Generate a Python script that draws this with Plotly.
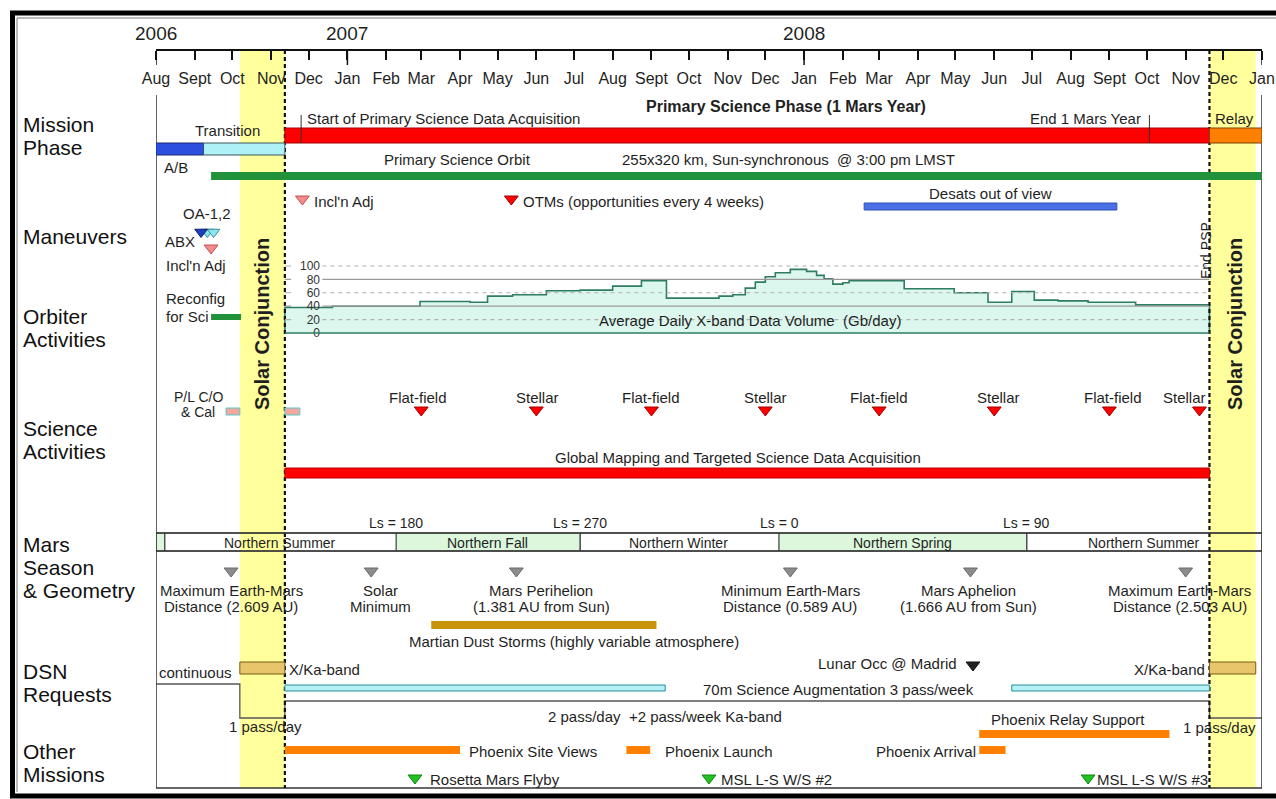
import pandas as pd
import plotly.graph_objects as go

FONT = "Liberation Sans, Arial, Helvetica, sans-serif"
INK = "#1f1f1f"
W, H = 1276, 799

# ---------------------------------------------------------------- time axis
axis_start, axis_end = "2006-08-01", "2009-01-01"
month_ticks = [d.strftime("%Y-%m-%d") for d in pd.date_range(axis_start, axis_end, freq="MS")]
month_labels = ["Aug", "Sept", "Oct", "Nov", "Dec", "Jan", "Feb", "Mar", "Apr", "May", "Jun", "Jul",
                "Aug", "Sept", "Oct", "Nov", "Dec", "Jan", "Feb", "Mar", "Apr", "May", "Jun", "Jul",
                "Aug", "Sept", "Oct", "Nov", "Dec", "Jan"]
year_labels = ["2006", "2007", "2008"]
year_dates = ["2006-08-01", "2007-01-01", "2008-01-01"]
long_tick_dates = ["2006-08-01", "2007-01-01", "2008-01-01", "2009-01-01"]

conjunctions = [("2006-10-07", "2006-11-12"), ("2008-11-20", "2008-12-27")]
psp_start, psp_end = "2006-11-12", "2008-11-20"

# ---------------------------------------------------------------- mission phase
ab_span = ("2006-08-01", "2006-09-08")
transition_span = ("2006-09-08", psp_start)
primary_span = (psp_start, psp_end)
relay_span = (psp_end, axis_end)
science_start_date = "2006-11-25"
end_mars_year_date = "2008-10-03"
orbit_span = ("2006-09-14", axis_end)

# ---------------------------------------------------------------- maneuvers
desat_span = ("2008-02-18", "2008-09-07")
abx_dates = ["2006-09-06"]
oa_dates = ["2006-09-11", "2006-09-16"]
incl_adj_early = ["2006-09-14"]
incl_adj_late = ["2006-11-26"]
otm_dates = ["2007-05-12"]

# ---------------------------------------------------------------- orbiter activities
reconfig_span = ("2006-09-14", "2006-10-08")
vol_dates = ["2006-11-12", "2006-12-20", "2007-02-28", "2007-04-09", "2007-04-23", "2007-05-13",
             "2007-06-09", "2007-07-06", "2007-08-01", "2007-08-24", "2007-09-13", "2007-10-25",
             "2007-11-05", "2007-11-15", "2007-11-23", "2007-12-01", "2007-12-09", "2007-12-21",
             "2008-01-03", "2008-01-11", "2008-01-17", "2008-01-24", "2008-02-01", "2008-02-06",
             "2008-03-21", "2008-04-30", "2008-05-27", "2008-06-15", "2008-07-03", "2008-07-22",
             "2008-08-15", "2008-09-22", "2008-11-20"]
vol_gbday = [38, 40, 47, 46, 55, 57, 63, 64, 70, 78, 52, 55, 57, 67, 76, 84, 90, 95, 92, 86,
             81, 73, 75, 78, 66, 60, 46, 62, 49, 48, 46, 42, 42]
vol_ticks = [0, 20, 40, 60, 80, 100]
vol_grid_solid = [40, 80]
vol_grid_dashed = [20, 60, 100]

# ---------------------------------------------------------------- science activities
cal_spans = [("2006-09-26", "2006-10-07"), ("2006-11-12", "2006-11-24")]
cal_dates = ["2007-03-01", "2007-06-01", "2007-09-01", "2007-12-01",
             "2008-03-01", "2008-06-01", "2008-09-01", "2008-11-12"]
cal_names = ["Flat-field", "Stellar", "Flat-field", "Stellar",
             "Flat-field", "Stellar", "Flat-field", "Stellar"]
mapping_span = (psp_start, psp_end)

# ---------------------------------------------------------------- Mars season & geometry
season_bounds = ["2006-08-01", "2006-08-08", "2007-02-09", "2007-07-06",
                 "2007-12-12", "2008-06-27", "2009-01-01"]
season_names = ["", "Northern Summer", "Northern Fall", "Northern Winter",
                "Northern Spring", "Northern Summer"]
season_shaded = [True, False, True, False, True, False]
ls_values = [180, 270, 0, 90]
ls_dates = ["2007-02-09", "2007-07-06", "2007-12-12", "2008-06-27"]
geom_dates = ["2006-09-30", "2007-01-20", "2007-05-16", "2007-12-21", "2008-05-13", "2008-11-01"]
geom_labels = ["Maximum Earth-Mars\nDistance (2.609 AU)", "Solar\nMinimum",
               "Mars Perihelion\n(1.381 AU from Sun)", "Minimum Earth-Mars\nDistance (0.589 AU)",
               "Mars Aphelion\n(1.666 AU from Sun)", "Maximum Earth-Mars\nDistance (2.503 AU)"]
dust_span = ("2007-03-09", "2007-09-05")

# ---------------------------------------------------------------- DSN requests
dsn_dates = [axis_start, "2006-10-07", psp_start, psp_end, axis_end]
dsn_level = [3, 1, 2, 1, 1]          # 3 = continuous, 2 = 2 pass/day, 1 = 1 pass/day
xka_spans = [("2006-10-07", psp_start), (psp_end, "2008-12-27")]
aug70_spans = [(psp_start, "2007-09-12"), ("2008-06-15", psp_end)]
lunar_occ_dates = ["2008-05-15"]

# ---------------------------------------------------------------- other missions
site_views_span = (psp_start, "2007-04-01")
launch_span = ("2007-08-12", "2007-08-31")
arrival_span = ("2008-05-20", "2008-06-10")
relay_support_span = ("2008-05-20", "2008-10-19")
flyby_dates = ["2007-02-24", "2007-10-17", "2008-08-15"]
flyby_names = ["Rosetta Mars Flyby", "MSL L-S W/S #2", "MSL L-S W/S #3"]


# ================================================================ drawing helpers
def fx(p):
    return p / W


def fy(p):
    return 1 - p / H


BOX_BOTTOM = 788
shapes, annotations = [], []


def rect(x0, x1, y0, y1, fill, line=None, lw=1.0, layer="above", xref="x"):
    shapes.append(dict(type="rect", xref=xref, yref="y", x0=x0, x1=x1, y0=y0, y1=y1,
                       fillcolor=fill, layer=layer,
                       line=dict(color=line if line else "rgba(0,0,0,0)", width=lw if line else 0)))


def seg(x0, x1, y0, y1, color="#222", width=1.0, dash="solid", xref="x", yref="y", layer="above"):
    shapes.append(dict(type="line", xref=xref, yref=yref, x0=x0, x1=x1, y0=y0, y1=y1,
                       layer=layer, line=dict(color=color, width=width, dash=dash)))


def pline(x0, x1, y0, y1, color, width):
    shapes.append(dict(type="line", xref="paper", yref="paper", x0=fx(x0), x1=fx(x1),
                       y0=fy(y0), y1=fy(y1), layer="below", line=dict(color=color, width=width)))


def text(x, y, s, size=15, anchor="center", color=INK, xref="paper", angle=0, xshift=0, lh=None):
    lh = lh or size * 1.07
    for i, line in enumerate(s.split("\n")):
        annotations.append(dict(x=fx(x) if xref == "paper" else x, y=y + i * lh, xref=xref, yref="y",
                                text=line, showarrow=False, xanchor=anchor, yanchor="middle",
                                textangle=angle, xshift=xshift, borderpad=0,
                                font=dict(family=FONT, size=size, color=color)))


fig = go.Figure()


def tri(dates, y, color, edge, size=12, symbol="triangle-down"):
    fig.add_trace(go.Scatter(x=dates, y=[y] * len(dates), mode="markers", yaxis="y",
                             marker=dict(symbol=symbol, size=size, color=color,
                                         line=dict(color=edge, width=1)),
                             hoverinfo="skip", cliponaxis=False))


# ---------------------------------------------------------------- frame & axis furniture
pline(10, 1276, 13, 13, "#000", 5)
pline(12.5, 12.5, 11, 797, "#000", 5)
pline(10, 1276, 796, 796, "#000", 5)
pline(17, 1276, 18, 18, "#777", 1)
pline(17, 17, 18, 792, "#777", 1)

for c0, c1 in conjunctions:
    rect(c0, c1, 50, BOX_BOTTOM, "#ffff9c", layer="below")

seg(axis_start, axis_start, 95, BOX_BOTTOM, "#333", 1.5)
seg(axis_end, axis_end, 95, BOX_BOTTOM, "#333", 1.5)
seg(axis_start, axis_end, BOX_BOTTOM, BOX_BOTTOM, "#333", 1.5)
for d in long_tick_dates:
    seg(d, d, 50, 65, "#111", 1.5)
for d in (psp_start, psp_end):
    seg(d, d, 50, BOX_BOTTOM, "#111", 2.2, dash="4px,3px")

for lab, d in zip(year_labels, year_dates):
    text(d, 33, lab, size=19, xref="x")

# ---------------------------------------------------------------- row titles
for s, y in [("Mission\nPhase", 124), ("Maneuvers", 236), ("Orbiter\nActivities", 316),
             ("Science\nActivities", 428), ("Mars\nSeason\n& Geometry", 544),
             ("DSN\nRequests", 671), ("Other\nMissions", 751)]:
    text(22, y, s, size=21, anchor="left", color="#111", lh=23.3)

# ---------------------------------------------------------------- mission phase
rect(*ab_span, 143, 155, "#2d4fe0", "#1a2a70")
rect(*transition_span, 143, 155, "#aef2f5", "#3a5560")
rect(*primary_span, 128, 143, "#ff0000", "#a00000")
rect(*relay_span, 128, 143, "#ff8000", "#7a4000")
rect(*orbit_span, 172, 180, "#21913a")
seg(science_start_date, science_start_date, 115, 143, "#333", 1)
seg(end_mars_year_date, end_mars_year_date, 115, 143, "#333", 1)
text(228, 130, "Transition")
text(176, 167, "A/B")
text(306, 118, "Start of Primary Science Data Acquisition", anchor="left")
text(786, 106, "<b>Primary Science Phase (1 Mars Year)</b>", size=16)
text(1142, 118, "End 1 Mars Year", anchor="right")
text(1234, 118, "Relay")
text(457, 159, "Primary Science Orbit")
text(788, 159, "255x320 km, Sun-synchronous \u00a0@ 3:00 pm LMST")

# ---------------------------------------------------------------- maneuvers
rect(*desat_span, 203, 210, "#4b6fe6", "#3050b0")
text(990, 193, "Desats out of view")
tri(incl_adj_late, 199, "#f28c8c", "#c05050")
text(313, 201, "Incl'n Adj", anchor="left")
tri(otm_dates, 199, "#ff0000", "#a00000")
text(522, 201, "OTMs (opportunities every 4 weeks)", anchor="left")
tri(oa_dates, 232, "#8ae6ef", "#3a8a9a", size=11)
tri(abx_dates, 232, "#1f3fc0", "#102060", size=11)
tri(incl_adj_early, 248, "#f28c8c", "#c05050")
text(207, 213, "OA-1,2")
text(196, 241, "ABX", anchor="right")
text(196, 265, "Incl'n Adj")
text(1206, 251, "End PSP", size=14, angle=-90)

# ---------------------------------------------------------------- orbiter activities
rect(*reconfig_span, 314, 320, "#21913a")
text(165, 298, "Reconfig\nfor Sci", anchor="left", lh=18)

vol_x = [vol_dates[0]] + vol_dates + [vol_dates[-1]]
vol_y = [0] + vol_gbday + [0]
fig.add_trace(go.Scatter(x=vol_x, y=vol_y, mode="lines", line_shape="hv", yaxis="y2",
                         fill="tozeroy", fillcolor="#dcf7ee",
                         line=dict(color="#2f7d5f", width=1.6), hoverinfo="skip"))
grid_from = "2006-12-12"
for v in vol_grid_solid:
    seg(grid_from, psp_end, v, v, "#9a9a9a", 1.2, yref="y2")
    seg(psp_start, "2006-11-17", v, v, "#9a9a9a", 1.2, yref="y2")
for v in vol_grid_dashed:
    seg(grid_from, psp_end, v, v, "#b0b0b0", 1.1, dash="4px,4px", yref="y2")
    seg(psp_start, "2006-11-17", v, v, "#b0b0b0", 1.1, yref="y2")
seg(psp_start, psp_end, 0, 0, "#2f7d5f", 1.6, yref="y2")
text(750, 320, "Average Daily X-band Data Volume \u00a0(Gb/day)")

text(262, 324, "<b>Solar Conjunction</b>", size=20, angle=-90)
text(1235, 324, "<b>Solar Conjunction</b>", size=20, angle=-90)

# ---------------------------------------------------------------- science activities
for c0, c1 in cal_spans:
    rect(c0, c1, 408, 415, "#f2a8a0", "#5cc8c8")
text(198, 397, "P/L C/O\n& Cal", size=14, lh=15)
tri(cal_dates, 410, "#ff0000", "#a00000")
for d, n, sh in zip(cal_dates, cal_names, [-3, 1, 0, 0, 0, 4, 4, -15]):
    text(d, 397, n, xref="x", xshift=sh)
rect(*mapping_span, 468, 478, "#ff0000", "#c00000")
text(738, 457, "Global Mapping and Targeted Science Data Acquisition")

# ---------------------------------------------------------------- Mars season & geometry
bounds = pd.to_datetime(season_bounds)
for i, (name, shaded) in enumerate(zip(season_names, season_shaded)):
    a, b = bounds[i], bounds[i + 1]
    rect(a.strftime("%Y-%m-%d"), b.strftime("%Y-%m-%d"), 533, 551,
         "#dcf7dc" if shaded else "rgba(0,0,0,0)", "#444", 1, layer="below")
    if name:
        mid = a + (b - a) / 2
        text(mid.strftime("%Y-%m-%d"), 543, name, size=14, xref="x")
seg(axis_start, axis_end, 533, 533, "#333", 1.5)
seg(axis_start, axis_end, 551, 551, "#333", 1.5)
for v, d in zip(ls_values, ls_dates):
    text(d, 523, f"Ls = {v}", size=14, xref="x")
tri(geom_dates, 571, "#8c8c8c", "#6a6a6a", size=12)
for d, lab, sh in zip(geom_dates, geom_labels, [0, 9, 25, 0, -2, -6]):
    text(d, 590, lab, xref="x", xshift=sh, lh=16)
rect(*dust_span, 621, 629, "#c9940b")
text(574, 641, "Martian Dust Storms (highly variable atmosphere)")

# ---------------------------------------------------------------- DSN requests
fig.add_trace(go.Scatter(x=dsn_dates, y=dsn_level, mode="lines", line_shape="hv", yaxis="y3",
                         line=dict(color="#555", width=1.3), hoverinfo="skip"))
for c0, c1 in xka_spans:
    rect(c0, c1, 662, 674, "#e8c56a", "#7a5a10")
for c0, c1 in aug70_spans:
    rect(c0, c1, 685, 691, "#b4f1f5", "#2a8a9a")
text(195, 672, "continuous")
text(288, 669, "X/Ka-band", anchor="left")
text(1206, 669, "X/Ka-band", anchor="right")
tri(lunar_occ_dates, 665, "#222", "#111")
text(958, 663, "Lunar Occ @ Madrid", anchor="right")
text(838, 689, "70m Science Augmentation 3 pass/week")
text(665, 716, "2 pass/day \u00a0+2 pass/week Ka-band")
text(265, 726, "1 pass/day")
text(1219, 727, "1 pass/day")

# ---------------------------------------------------------------- other missions
for span, y0, y1 in [(site_views_span, 746, 754), (launch_span, 746, 754),
                     (arrival_span, 746, 754), (relay_support_span, 730, 738)]:
    rect(*span, y0, y1, "#ff8000")
text(468, 751, "Phoenix Site Views", anchor="left")
text(664, 751, "Phoenix Launch", anchor="left")
text(977, 751, "Phoenix Arrival", anchor="right")
text(1068, 719, "Phoenix Relay Support")
tri(flyby_dates, 778, "#22c022", "#118811")
for d, n, sh in zip(flyby_dates, flyby_names, [14, 11, 8]):
    text(d, 779, n, anchor="left", xref="x", xshift=sh)

# ---------------------------------------------------------------- layout
fig.update_layout(
    width=W, height=H, margin=dict(l=0, r=0, t=0, b=0, pad=0, autoexpand=False),
    paper_bgcolor="white", plot_bgcolor="rgba(0,0,0,0)", showlegend=False,
    xaxis=dict(type="date", domain=[fx(156), fx(1262)], range=[axis_start, axis_end],
               anchor="free", position=fy(50), side="bottom", automargin=False,
               showline=True, linecolor="#111", linewidth=2,
               ticks="outside", ticklen=9, tickwidth=1.5, tickcolor="#111",
               tickvals=month_ticks, ticktext=month_labels, ticklabelstandoff=5,
               tickfont=dict(family=FONT, size=16, color=INK),
               showgrid=False, zeroline=False),
    yaxis=dict(domain=[0, 1], range=[H, 0], visible=False, fixedrange=True, automargin=False),
    yaxis2=dict(domain=[fy(333 + 0.67 * 4), fy(266 - 0.67 * 4)], range=[-4, 104],
                anchor="free", position=fx(320), tickvals=vol_ticks, automargin=False,
                showgrid=False, zeroline=False, showline=False, ticks="",
                tickfont=dict(family=FONT, size=12, color="#333")),
    yaxis3=dict(domain=[fy(718 + 8.5), fy(684 - 8.5)], range=[0.5, 3.5],
                anchor="x", visible=False, automargin=False),
    shapes=shapes, annotations=annotations,
)

fig.write_html("out.html")
